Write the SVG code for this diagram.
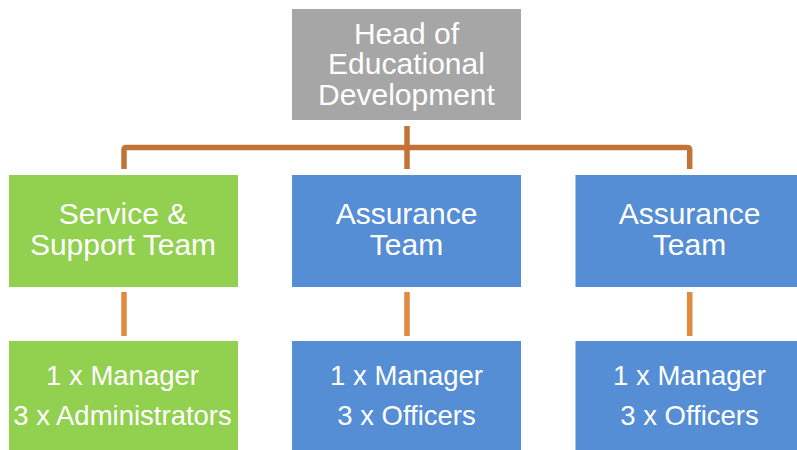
<svg xmlns="http://www.w3.org/2000/svg" width="797" height="450" viewBox="0 0 797 450">
<style>
.box{stroke:none}
.gray{fill:#A6A6A6}
.green{fill:#92D050}
.blue{fill:#558ED5}
.t{font-family:"Liberation Sans",Arial,sans-serif;fill:#FFFFFF;text-anchor:middle;font-size:30px}
.t3{font-size:27.5px}
.c1{fill:none;stroke:#C27438;stroke-width:5.5;stroke-linejoin:round}
.c2{fill:none;stroke:#E08A3E;stroke-width:5.5}
</style>
<rect width="797" height="450" fill="#FFFFFF"/>
<g id="connectors">
<path class="c1" d="M407,126 V169"/>
<path class="c1" d="M124,169 V150 Q124,147.5 126.5,147.5 H687 Q689.7,147.5 689.7,150 V169"/>
<path class="c2" d="M124,292 V336"/>
<path class="c2" d="M407,292 V336"/>
<path class="c2" d="M689.7,292 V336"/>
</g>
<g id="head">
<rect class="box gray" x="292" y="9" width="229" height="111"/>
<text class="t" x="406.5" y="43.5">Head of</text>
<text class="t" x="406.5" y="74">Educational</text>
<text class="t" x="406.5" y="104.5">Development</text>
</g>
<g id="service-team">
<rect class="box green" x="9" y="175" width="229" height="112"/>
<text class="t" x="123" y="223.5">Service &amp;</text>
<text class="t" x="123" y="255">Support Team</text>
</g>
<g id="assurance-team-1">
<rect class="box blue" x="292" y="175" width="229" height="112"/>
<text class="t" x="406.5" y="223.5">Assurance</text>
<text class="t" x="406.5" y="255">Team</text>
</g>
<g id="assurance-team-2">
<rect class="box blue" x="575.5" y="175" width="229" height="112"/>
<text class="t" x="689.5" y="223.5">Assurance</text>
<text class="t" x="689.5" y="255">Team</text>
</g>
<g id="service-staff">
<rect class="box green" x="9" y="341" width="229" height="112"/>
<text class="t t3" x="122.5" y="385">1 x Manager</text>
<text class="t t3" x="122.5" y="425">3 x Administrators</text>
</g>
<g id="assurance-staff-1">
<rect class="box blue" x="292" y="341" width="229" height="112"/>
<text class="t t3" x="406.5" y="385">1 x Manager</text>
<text class="t t3" x="406.5" y="425">3 x Officers</text>
</g>
<g id="assurance-staff-2">
<rect class="box blue" x="575.5" y="341" width="229" height="112"/>
<text class="t t3" x="689.5" y="385">1 x Manager</text>
<text class="t t3" x="689.5" y="425">3 x Officers</text>
</g>
</svg>
